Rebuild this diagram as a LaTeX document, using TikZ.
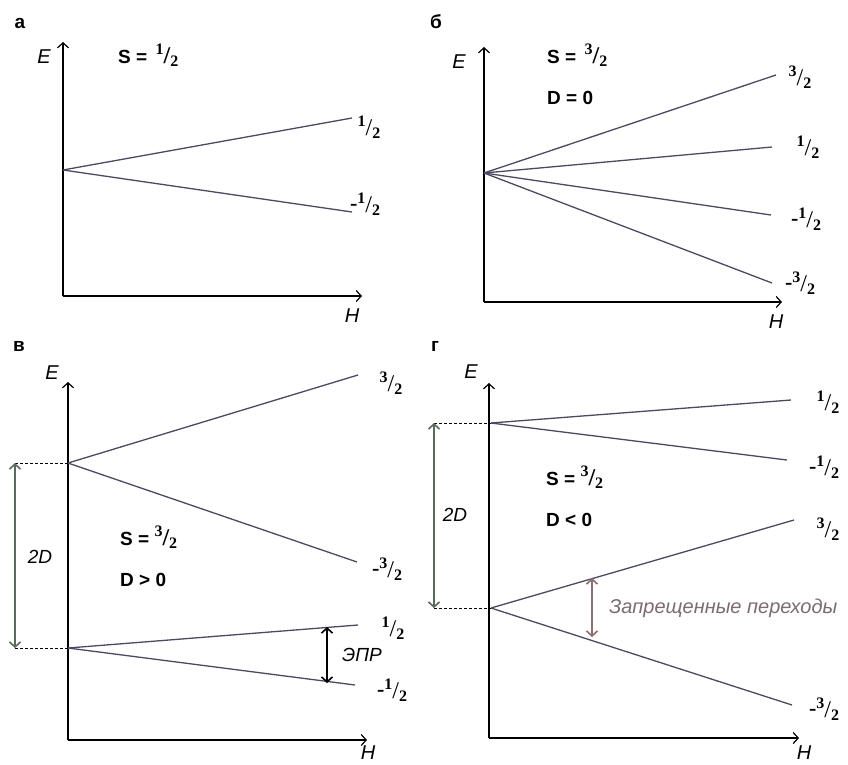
\documentclass[tikz,border=0pt]{standalone}
\usepackage{fontspec}
\setmainfont{Liberation Sans}
\newfontfamily\serifnum{Liberation Serif}
\usetikzlibrary{arrows.meta}
\definecolor{lvl}{HTML}{4A4A62}
\definecolor{dcol}{HTML}{5B6B5B}
\definecolor{fcol}{HTML}{8C6E70}
\definecolor{ftxt}{HTML}{7D6B72}
\newcommand\frc[2]{{\fontsize{24}{24}\selectfont\serifnum\raisebox{0.40em}{\fontsize{16}{16}\selectfont\bfseries #1}/\raisebox{-0.1em}{\fontsize{16}{16}\selectfont\bfseries #2}}}
\newcommand\mfrc[2]{{\fontsize{22}{22}\selectfont\serifnum\raisebox{0.1em}{\bfseries -}}\frc{#1}{#2}}
\tikzset{
  axis/.style={draw=black, line width=1.2pt, -{Straight Barb[length=5pt,width=11pt]}},
  level/.style={draw=lvl, line width=1.3pt},
  guide/.style={draw=black, line width=0.7pt, dash pattern=on 3pt off 2pt},
  gap/.style={draw=dcol, line width=1.6pt, {Straight Barb[length=5pt,width=11pt]}-{Straight Barb[length=5pt,width=11pt]}},
  epr/.style={draw=black, line width=1.6pt, {Straight Barb[length=5pt,width=11pt]}-{Straight Barb[length=5pt,width=11pt]}},
  forb/.style={draw=fcol, line width=1.6pt, {Straight Barb[length=5pt,width=11pt]}-{Straight Barb[length=5pt,width=11pt]}},
  axlab/.style={font=\fontsize{20}{20}\selectfont\itshape, inner sep=0pt},
  plab/.style={font=\fontsize{19}{19}\selectfont\bfseries, inner sep=0pt},
  param/.style={font=\fontsize{19}{19}\selectfont\bfseries, inner sep=0pt, anchor=west},
  mlab/.style={inner sep=0pt},
  note/.style={font=\fontsize{19}{19}\selectfont\itshape, inner sep=0pt},
}
\begin{document}
\begin{tikzpicture}[x=1pt,y=-1pt]
\useasboundingbox[fill=white] (0,0) rectangle (848,764);
% ---------------- panel a
\node[plab] (la) at (20,23) {а};
\coordinate (aO) at (63,296);
\coordinate (aEt) at (63,42);
\coordinate (aHt) at (362,296);
\draw[axis] (aO) -- (aEt);
\draw[axis] (aO) -- (aHt);
\node[axlab] (aE) at (44,57) {E};
\node[axlab] (aH) at (352,316) {H};
\node[param] (aS) at (118,55) {S = \,\frc{1}{2}};
\coordinate (a0) at (63,170);
\coordinate (a1) at (352,118);
\coordinate (a2) at (352,212);
\draw[level] (a0) -- (a1);
\draw[level] (a0) -- (a2);
\node[mlab] (a1l) at (369,127) {\frc{1}{2}};
\node[mlab] (a2l) at (365,204) {\mfrc{1}{2}};
% ---------------- panel b
\node[plab] (lb) at (436,22) {б};
\coordinate (bO) at (484,302);
\coordinate (bEt) at (484,47);
\coordinate (bHt) at (782,302);
\draw[axis] (bO) -- (bEt);
\draw[axis] (bO) -- (bHt);
\node[axlab] (bE) at (459,62) {E};
\node[axlab] (bH) at (776,322) {H};
\node[param] (bS) at (547,55) {S = \,\frc{3}{2}};
\node[param] (bD) at (547,98) {D = 0};
\coordinate (b0) at (484,173);
\coordinate (b1) at (776,75);
\coordinate (b2) at (772,147);
\coordinate (b3) at (771,215);
\coordinate (b4) at (772,283);
\draw[level] (b0) -- (b1);
\draw[level] (b0) -- (b2);
\draw[level] (b0) -- (b3);
\draw[level] (b0) -- (b4);
\node[mlab] (b1l) at (800,77) {\frc{3}{2}};
\node[mlab] (b2l) at (808,147) {\frc{1}{2}};
\node[mlab] (b3l) at (806,219) {\mfrc{1}{2}};
\node[mlab] (b4l) at (800,283) {\mfrc{3}{2}};
% ---------------- panel v
\node[plab] (lv) at (19,346) {в};
\coordinate (vO) at (68,740);
\coordinate (vEt) at (68,382);
\coordinate (vHt) at (367,740);
\draw[axis] (vO) -- (vEt);
\draw[axis] (vO) -- (vHt);
\node[axlab] (vE) at (52,373) {E};
\node[axlab] (vH) at (368,753) {H};
\coordinate (vu) at (68,463);
\coordinate (vl) at (68,648);
\coordinate (v1) at (358,375);
\coordinate (v2) at (357,562);
\coordinate (v3) at (358,625);
\coordinate (v4) at (355,685);
\draw[level] (vu) -- (v1);
\draw[level] (vu) -- (v2);
\draw[level] (vl) -- (v3);
\draw[level] (vl) -- (v4);
\node[mlab] (v1l) at (391,383) {\frc{3}{2}};
\node[mlab] (v2l) at (387,569) {\mfrc{3}{2}};
\node[mlab] (v3l) at (393,628) {\frc{1}{2}};
\node[mlab] (v4l) at (392,690) {\mfrc{1}{2}};
\coordinate (vdu) at (15,463);
\coordinate (vdl) at (15,648);
\draw[guide] (vdu) -- (vu);
\draw[guide] (vdl) -- (vl);
\draw[gap] (vdu) -- (vdl);
\node[note] (v2D) at (40,557) {2D};
\node[param] (vS) at (120,537) {S = \frc{3}{2}};
\node[param] (vD) at (120,580) {D > 0};
\coordinate (ve1) at (327,627);
\coordinate (ve2) at (327,683);
\draw[epr] (ve1) -- (ve2);
\node[note] (vepr) at (362,655) {ЭПР};
% ---------------- panel g
\node[plab] (lg) at (435,346) {г};
\coordinate (gO) at (489,738);
\coordinate (gEt) at (489,383);
\coordinate (gHt) at (799,738);
\draw[axis] (gO) -- (gEt);
\draw[axis] (gO) -- (gHt);
\node[axlab] (gE) at (471,372) {E};
\node[axlab] (gH) at (804,753) {H};
\coordinate (gu) at (491,423);
\coordinate (gl) at (491,608);
\coordinate (g1) at (791,400);
\coordinate (g2) at (787,460);
\coordinate (g3) at (794,520);
\coordinate (g4) at (792,705);
\draw[level] (gu) -- (g1);
\draw[level] (gu) -- (g2);
\draw[level] (gl) -- (g3);
\draw[level] (gl) -- (g4);
\node[mlab] (g1l) at (828,402) {\frc{1}{2}};
\node[mlab] (g2l) at (824,467) {\mfrc{1}{2}};
\node[mlab] (g3l) at (828,529) {\frc{3}{2}};
\node[mlab] (g4l) at (824,709) {\mfrc{3}{2}};
\coordinate (gdu) at (434,423);
\coordinate (gdl) at (434,608);
\draw[guide] (gdu) -- (gu);
\draw[guide] (gdl) -- (gl);
\draw[gap] (gdu) -- (gdl);
\node[note] (g2D) at (455,515) {2D};
\node[param] (gS) at (546,477) {S = \frc{3}{2}};
\node[param] (gD) at (546,520) {D < 0};
\coordinate (gf1) at (592,578);
\coordinate (gf2) at (592,637);
\draw[forb] (gf1) -- (gf2);
\node[note, anchor=west, text=ftxt, font=\fontsize{20}{20}\selectfont\itshape] (gforb) at (609,608) {Запрещенные переходы};
\end{tikzpicture}
\end{document}
